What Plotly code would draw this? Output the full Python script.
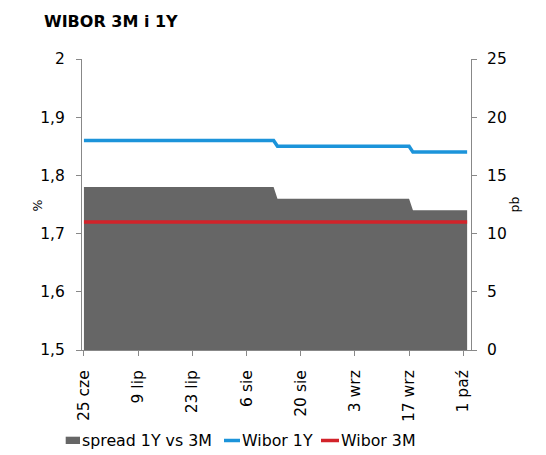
import plotly.graph_objects as go

# dane (punkty zmian poziomu)
daty = ["2015-06-25", "2015-08-13", "2015-08-14", "2015-09-17", "2015-09-18", "2015-10-02"]
spread_pb = [14, 14, 13, 13, 12, 12]
wibor_1y = [1.86, 1.86, 1.85, 1.85, 1.84, 1.84]
wibor_3m = [1.72, 1.72, 1.72, 1.72, 1.72, 1.72]

tick_daty = ["2015-06-25", "2015-07-09", "2015-07-23", "2015-08-06",
             "2015-08-20", "2015-09-03", "2015-09-17", "2015-10-01"]
tick_etykiety = ["25 cze", "9 lip", "23 lip", "6 sie", "20 sie", "3 wrz", "17 wrz", "1 paź"]

nazwy = ["spread 1Y vs 3M", "Wibor 1Y", "Wibor 3M"]
kolory = ["#666666", "#1c94da", "#d2232a"]

FONT = "DejaVu Sans"
W, H = 546, 455
L, R, T, B = 82, 75, 59, 105


def px(x):
    return (x - L) / (W - L - R)


def py(y):
    return (H - B - y) / (H - T - B)


fig = go.Figure()

# pole spreadu (oś prawa, pb)
fig.add_trace(go.Scatter(
    x=daty, y=spread_pb, name=nazwy[0], yaxis="y",
    mode="lines", line=dict(width=0, color=kolory[0]),
    fill="tozeroy", fillcolor=kolory[0]
))
# stawki (oś lewa, %)
fig.add_trace(go.Scatter(
    x=daty, y=wibor_1y, name=nazwy[1], yaxis="y2",
    mode="lines", line=dict(width=3.5, color=kolory[1])
))
fig.add_trace(go.Scatter(
    x=daty, y=wibor_3m, name=nazwy[2], yaxis="y2",
    mode="lines", line=dict(width=3.5, color=kolory[2])
))

os_kolor = "#888888"

fig.update_layout(
    width=W, height=H,
    margin=dict(l=L, r=R, t=T, b=B),
    paper_bgcolor="white", plot_bgcolor="white",
    separators=", ",
    showlegend=False,
    font=dict(family=FONT, size=15.5, color="black"),
    title=dict(text="<b>WIBOR 3M i 1Y</b>", font=dict(family=FONT, size=16, color="black"),
               xref="container", yref="container", x=44 / W, xanchor="left",
               y=1 - 21 / H, yanchor="middle"),
    xaxis=dict(
        type="date", range=["2015-06-24 12:00", "2015-10-03 00:00"],
        tickvals=tick_daty, ticktext=tick_etykiety, tickangle=-90,
        ticks="outside", ticklen=5, tickcolor=os_kolor,
        showline=True, linecolor=os_kolor, linewidth=1,
        showgrid=False, zeroline=False, ticklabelstandoff=8,
        tickfont=dict(size=15.5)
    ),
    yaxis=dict(
        side="right", range=[0, 25], dtick=5,
        ticks="outside", ticklen=5, tickcolor=os_kolor,
        showline=True, linecolor=os_kolor, linewidth=1,
        showgrid=False, zeroline=False, ticklabelstandoff=7,
        tickfont=dict(size=15.5)
    ),
    yaxis2=dict(
        overlaying="y", side="left", range=[1.5, 2], dtick=0.1,
        ticks="outside", ticklen=5, tickcolor=os_kolor,
        showline=True, linecolor=os_kolor, linewidth=1,
        showgrid=False, zeroline=False, ticklabelstandoff=8,
        tickfont=dict(size=15.5)
    ),
)

# tytuły osi
fig.add_annotation(text="%", xref="paper", yref="paper", x=px(27), y=py(205),
                   showarrow=False, textangle=-90, font=dict(size=12.5))
fig.add_annotation(text="pb", xref="paper", yref="paper", x=px(523), y=py(205),
                   showarrow=False, textangle=-90, font=dict(size=12.5))

# legenda
ly = py(440.5)
fig.add_shape(type="rect", xref="paper", yref="paper",
              x0=px(65.7), x1=px(80), y0=py(444), y1=py(436.7),
              fillcolor=kolory[0], line=dict(width=0))
for x0, x1, k in [(224, 240, kolory[1]), (321, 339, kolory[2])]:
    fig.add_shape(type="line", xref="paper", yref="paper",
                  x0=px(x0), x1=px(x1), y0=ly, y1=ly,
                  line=dict(color=k, width=3.5))
for x, t in [(79.5, nazwy[0]), (240, nazwy[1]), (338.5, nazwy[2])]:
    fig.add_annotation(text=t, xref="paper", yref="paper", x=px(x), y=ly,
                       xanchor="left", yanchor="middle", showarrow=False,
                       font=dict(size=15.8))

# bez domyślnego marginesu strony i bez paska narzędzi
fig.write_html("out.html", config={"displayModeBar": False},
               post_script="document.body.style.margin='0';")
